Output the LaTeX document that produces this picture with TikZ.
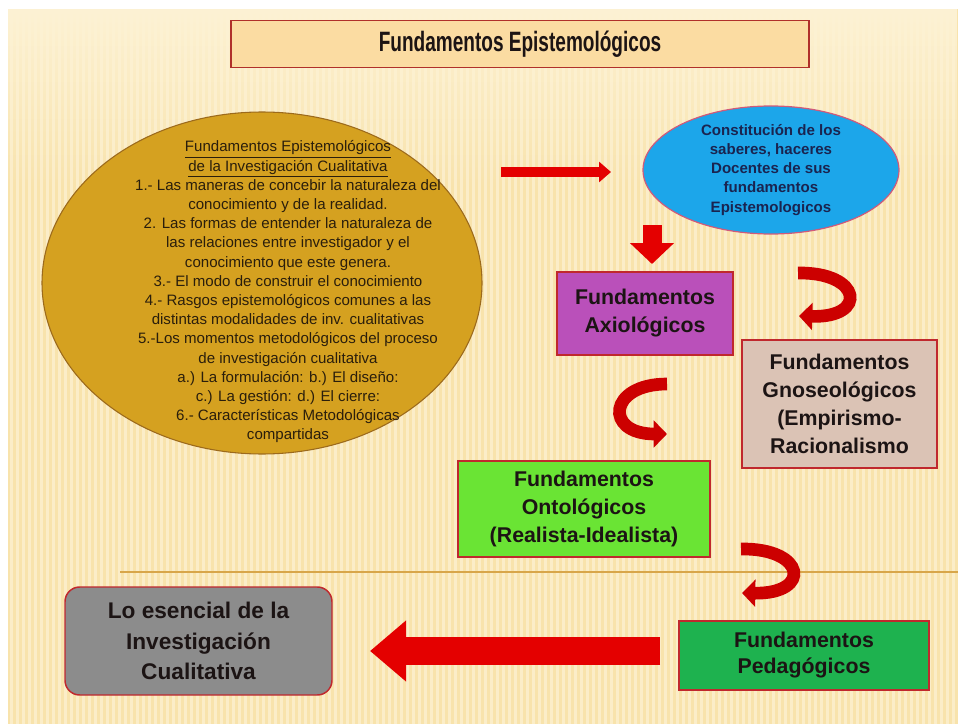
\documentclass[tikz,border=0pt]{standalone}
\usepackage{fontspec}
\setmainfont{Liberation Sans}
\newfontfamily\narrowfont[FakeStretch=0.68]{Liberation Sans}
\usetikzlibrary{arrows.meta,shapes.geometric,fadings}

\definecolor{slidebg}{HTML}{F8E3AC}
\definecolor{stripecol}{HTML}{FBEDC8}
\definecolor{bgtop}{HTML}{FDF2D4}
\definecolor{rulecol}{HTML}{D8A64A}
\definecolor{titlefill}{HTML}{FBDCA2}
\definecolor{titleline}{HTML}{B0302A}
\definecolor{epifill}{HTML}{D5A120}
\definecolor{epiline}{HTML}{9C6A1C}
\definecolor{epitextcol}{HTML}{2A1E0C}
\definecolor{saberfill}{HTML}{1CA6EA}
\definecolor{saberline}{HTML}{D05A7A}
\definecolor{sabertext}{HTML}{1A2450}
\definecolor{axiofill}{HTML}{BA50BA}
\definecolor{gnofill}{HTML}{DBC3B5}
\definecolor{ontofill}{HTML}{6AE434}
\definecolor{pedfill}{HTML}{1EB24F}
\definecolor{esenfill}{HTML}{8C8C8C}
\definecolor{boxline}{HTML}{C0282D}
\definecolor{boxtext}{HTML}{1C1414}
\definecolor{arrowred}{HTML}{E40000}
\definecolor{curvered}{HTML}{CC0000}

\begin{document}
\begin{tikzpicture}[x=0.75pt,y=-0.75pt,
    box/.style={draw=boxline, line width=1.1pt, align=center, text=boxtext,
      inner sep=0pt, font=\bfseries\fontsize{16}{21}\selectfont},
    blockarrow/.style={draw=arrowred, line width=#1},
    curvearrow/.style={draw=curvered, line width=9.5pt,
      -{Triangle[length=10pt,width=20pt]}}]
  % background of the slide
  \useasboundingbox (0,0) rectangle (958,724);
  \fill[white] (0,0) rectangle (958,724);
  \fill[slidebg] (8,9) rectangle (958,724);
  \foreach \x in {10,16,...,958}
    \fill[stripecol] (\x,9) rectangle ++(2.5,715);
  \fill[bgtop, path fading=south] (8,9) rectangle (958,190);
  \draw[rulecol, line width=0.8pt] (120,572) -- (958,572);

  % title
  \node[draw=titleline, line width=1.3pt, fill=titlefill, minimum width=433.5pt,
    minimum height=35.25pt, inner sep=0pt, text=boxtext,
    font=\narrowfont\bfseries\fontsize{21}{24}\selectfont] (title) at (520,44)
    {Fundamentos Epistemológicos};

  % nodes
  \node[ellipse, draw=epiline, line width=0.8pt, fill=epifill, minimum width=330pt,
    minimum height=256.5pt] (epi) at (262,283) {};
  \node[align=center, text=epitextcol, inner sep=0pt,
    font=\fontsize{11.3}{14.4}\selectfont] (epitext) at (288,292)
    {\underline{Fundamentos Epistemológicos}\\
     \underline{de la Investigación Cualitativa}\\
     1.- Las maneras de concebir la naturaleza del\\
     conocimiento y de la realidad.\\
     2. Las formas de entender la naturaleza de\\
     las relaciones entre investigador y el\\
     conocimiento que este genera.\\
     3.- El modo de construir el conocimiento\\
     4.- Rasgos epistemológicos comunes a las\\
     distintas modalidades de inv. cualitativas\\
     5.-Los momentos metodológicos del proceso\\
     de investigación cualitativa\\
     a.) La formulación: b.) El diseño:\\
     c.) La gestión: d.) El cierre:\\
     6.- Características Metodológicas\\
     compartidas};
  \node[ellipse, draw=saberline, line width=0.9pt, fill=saberfill, minimum width=192pt,
    minimum height=95pt, inner sep=0pt, align=center, text=sabertext,
    font=\bfseries\fontsize{11.3}{14.3}\selectfont] (saberes) at (771,170)
    {Constitución de los\\ saberes, haceres\\ Docentes de sus\\ fundamentos\\ Epistemologicos};
  \node[box, fill=axiofill, minimum width=132pt, minimum height=62.25pt] (axio)
    at (645,313.5) {Fundamentos\\ Axiológicos};
  \node[box, fill=gnofill, minimum width=146.25pt, minimum height=96pt] (gnoseo)
    at (839.5,404) {Fundamentos\\ Gnoseológicos\\ (Empirismo-\\ Racionalismo};
  \node[box, fill=ontofill, minimum width=189pt, minimum height=72pt] (onto)
    at (584,509) {Fundamentos\\ Ontológicos\\ (Realista-Idealista)};
  \node[box, fill=pedfill, minimum width=187.5pt, minimum height=51.75pt,
    font=\bfseries\fontsize{16}{19.5}\selectfont] (pedago)
    at (804,655.5) {Fundamentos\\ Pedagógicos};
  \node[box, fill=esenfill, rounded corners=11pt, minimum width=200.25pt,
    minimum height=81pt, font=\bfseries\fontsize{17}{23}\selectfont] (esencial)
    at (198.5,641) {Lo esencial de la\\ Investigación\\ Cualitativa};

  % arrows
  \coordinate (r1) at (501,172);
  \coordinate (r2) at (611,172);
  \coordinate (d1) at (652,225);
  \coordinate (d2) at (652,264);
  \coordinate (l1) at (660,651);
  \coordinate (l2) at (370,651);
  \draw[blockarrow=7.5pt, -{Triangle[length=9pt,width=15pt]}] (r1) -- (r2);
  \draw[blockarrow=14.25pt, -{Triangle[length=15.75pt,width=32.25pt]}] (d1) -- (d2);
  \draw[blockarrow=21pt, -{Triangle[length=27pt,width=44pt]}] (l1) -- (l2);

  \coordinate (c1a) at (798,273);
  \coordinate (c1b) at (799,316);
  \coordinate (c2a) at (667,384);
  \coordinate (c2b) at (667,434);
  \coordinate (c3a) at (741,549);
  \coordinate (c3b) at (742,593);
  \draw[curvearrow] (c1a) .. controls (862,272) and (868,318) .. (c1b);
  \draw[curvearrow] (c2a) .. controls (608,384) and (604,434) .. (c2b);
  \draw[curvearrow] (c3a) .. controls (806,548) and (812,594) .. (c3b);
\end{tikzpicture}
\end{document}
